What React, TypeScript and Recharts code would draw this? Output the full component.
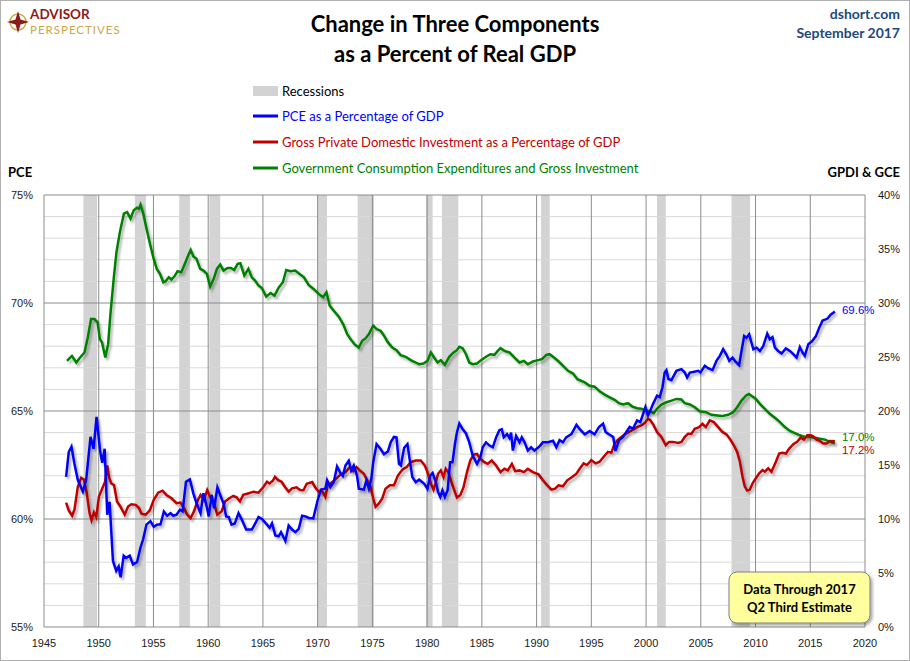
import React from "react";
import { LineChart, Line, XAxis, YAxis, ReferenceArea, ReferenceLine } from "recharts";

type Pt = [number, number];

const pceShare: Pt[] = [
  [1947.02, 61.95], [1947.26, 63.1], [1947.51, 63.35], [1947.78, 62.56], [1948.09, 61.8], [1948.55, 61.27],
  [1948.85, 61.8], [1949.25, 63.8], [1949.53, 63.25], [1949.8, 64.73], [1950.14, 63.1], [1950.32, 62.6],
  [1950.54, 63.25], [1950.78, 60.2], [1950.99, 60.8], [1951.3, 58.06], [1951.6, 57.6], [1951.82, 57.8],
  [1952.0, 57.3], [1952.28, 58.3], [1952.52, 58.2], [1952.83, 58.3], [1953.13, 57.9], [1953.5, 58.0],
  [1953.81, 58.67], [1954.05, 59.05], [1954.36, 59.74], [1954.72, 59.9], [1955.03, 59.64], [1955.34, 59.74],
  [1955.64, 59.74], [1955.95, 60.35], [1956.25, 60.15], [1956.56, 60.27], [1956.8, 60.15], [1957.11, 60.2],
  [1957.42, 60.43], [1957.66, 60.35], [1957.97, 61.72], [1958.33, 61.83], [1958.64, 61.19], [1958.94, 60.73],
  [1959.3, 60.27], [1959.56, 61.19], [1959.8, 60.73], [1960.05, 60.12], [1960.32, 61.11], [1960.54, 60.5],
  [1960.84, 61.46], [1961.15, 61.04], [1961.39, 60.73], [1961.64, 60.12], [1961.88, 60.09], [1962.13, 59.74],
  [1962.43, 59.79], [1962.77, 60.27], [1963.07, 59.97], [1963.47, 59.51], [1963.99, 59.51], [1964.3, 59.8],
  [1964.6, 60.09], [1964.91, 60.0], [1965.37, 59.74], [1965.61, 59.59], [1965.83, 59.8], [1966.13, 59.24],
  [1966.44, 59.2], [1966.65, 59.39], [1967.05, 58.98], [1967.35, 59.7], [1967.66, 59.51], [1967.97, 59.39],
  [1968.27, 59.54], [1968.58, 60.15], [1968.89, 60.12], [1969.2, 60.05], [1969.6, 60.03], [1970.0, 60.87],
  [1970.3, 61.36], [1970.7, 61.4], [1970.86, 61.8], [1971.16, 61.48], [1971.47, 61.7], [1971.77, 62.43],
  [1972.08, 62.13], [1972.3, 62.0], [1972.54, 62.48], [1972.84, 62.7], [1973.06, 62.25], [1973.3, 62.48],
  [1973.6, 62.0], [1973.76, 61.4], [1974.22, 61.36], [1974.46, 61.79], [1974.68, 61.4], [1974.9, 61.87],
  [1975.08, 62.63], [1975.38, 63.47], [1975.75, 63.24], [1976.06, 63.0], [1976.42, 63.13], [1976.67, 63.55],
  [1976.97, 63.8], [1977.2, 63.78], [1977.43, 62.55], [1977.6, 62.48], [1977.9, 63.3], [1978.2, 63.47],
  [1978.44, 62.63], [1978.65, 61.94], [1978.96, 61.7], [1979.27, 61.82], [1979.72, 61.64], [1980.03, 61.4],
  [1980.28, 62.0], [1980.5, 62.13], [1980.8, 61.7], [1981.0, 61.25], [1981.2, 61.02], [1981.4, 61.33],
  [1981.62, 61.02], [1981.87, 61.33], [1982.1, 62.63], [1982.32, 62.63], [1982.54, 63.47], [1982.72, 64.0],
  [1982.94, 64.42], [1983.24, 64.16], [1983.55, 63.96], [1983.85, 63.55], [1984.16, 62.94], [1984.56, 62.55],
  [1984.86, 62.86], [1985.08, 63.32], [1985.38, 63.55], [1985.7, 63.4], [1986.0, 63.32], [1986.3, 63.78],
  [1986.6, 64.11], [1986.82, 64.16], [1987.0, 63.78], [1987.3, 63.93], [1987.52, 63.75], [1987.67, 64.0],
  [1987.83, 63.17], [1988.13, 63.85], [1988.44, 63.55], [1988.65, 63.78], [1988.9, 63.55], [1989.2, 63.17],
  [1989.5, 63.32], [1989.8, 63.17], [1990.18, 63.32], [1990.58, 63.55], [1991.04, 63.55], [1991.5, 63.62],
  [1991.8, 63.32], [1992.1, 63.65], [1992.4, 63.55], [1992.7, 63.78], [1993.18, 63.93], [1993.64, 64.36],
  [1993.94, 64.16], [1994.4, 63.92], [1994.85, 64.07], [1995.3, 63.92], [1995.7, 64.26], [1996.07, 64.41],
  [1996.3, 64.03], [1996.6, 63.92], [1997.0, 63.8], [1997.2, 63.15], [1997.53, 63.64], [1997.9, 63.8],
  [1998.2, 64.03], [1998.5, 64.26], [1998.8, 64.18], [1999.18, 64.56], [1999.48, 64.49], [1999.73, 64.87],
  [1999.94, 65.18], [2000.18, 64.79], [2000.34, 64.95], [2000.64, 65.33], [2001.0, 65.71], [2001.25, 65.64],
  [2001.5, 66.1], [2001.7, 66.78], [2001.86, 66.89], [2002.04, 66.48], [2002.32, 66.43], [2002.77, 66.86],
  [2003.23, 66.94], [2003.54, 66.78], [2003.75, 66.55], [2004.0, 66.78], [2004.3, 66.81], [2004.76, 66.86],
  [2004.97, 66.78], [2005.37, 67.09], [2005.67, 66.98], [2006.07, 66.89], [2006.43, 67.32], [2006.74, 67.55],
  [2007.04, 67.86], [2007.35, 67.6], [2007.6, 67.32], [2007.9, 67.47], [2008.2, 67.27], [2008.5, 67.12],
  [2008.72, 67.78], [2008.96, 68.47], [2009.18, 68.39], [2009.42, 68.55], [2009.63, 68.16], [2009.8, 67.86],
  [2010.1, 67.93], [2010.4, 67.78], [2010.7, 68.0], [2010.9, 68.32], [2011.07, 68.58], [2011.3, 68.32],
  [2011.55, 68.42], [2011.77, 67.93], [2012.07, 67.78], [2012.38, 67.66], [2012.77, 67.9], [2013.14, 67.78],
  [2013.45, 67.63], [2013.75, 67.47], [2014.05, 67.96], [2014.3, 67.7], [2014.5, 67.55], [2014.82, 68.09],
  [2015.18, 68.24], [2015.52, 68.47], [2015.82, 68.85], [2016.13, 69.19], [2016.34, 69.23], [2016.58, 69.28],
  [2016.86, 69.46], [2017.25, 69.6],
];

// Gross private domestic investment as a % of GDP (right axis)
const gpdiShare: Pt[] = [
  [1947.02, 11.52], [1947.26, 10.79], [1947.57, 10.3], [1947.78, 10.85], [1948.09, 12.99], [1948.4, 13.81],
  [1948.64, 13.66], [1948.91, 12.38], [1949.16, 10.55], [1949.34, 9.88], [1949.56, 10.61], [1949.77, 10.18],
  [1950.02, 12.07], [1950.33, 12.84], [1950.58, 13.45], [1950.78, 14.97], [1950.93, 13.9], [1951.15, 13.29],
  [1951.4, 13.14], [1951.67, 11.62], [1951.97, 11.16], [1952.37, 10.4], [1952.68, 11.16], [1952.98, 11.37],
  [1953.38, 11.31], [1953.68, 11.01], [1953.9, 10.49], [1954.3, 10.4], [1954.66, 10.79], [1955.03, 11.77],
  [1955.43, 12.44], [1955.83, 12.62], [1956.19, 12.23], [1956.65, 11.92], [1957.11, 11.46], [1957.48, 11.52],
  [1957.78, 11.01], [1958.09, 10.4], [1958.39, 10.09], [1958.7, 10.7], [1959.0, 11.62], [1959.3, 12.23],
  [1959.61, 11.77], [1959.91, 12.68], [1960.22, 11.92], [1960.52, 11.46], [1960.83, 10.4], [1961.22, 10.7],
  [1961.54, 11.62], [1961.93, 11.92], [1962.3, 12.13], [1962.6, 12.01], [1962.9, 11.62], [1963.2, 12.23],
  [1963.7, 12.38], [1964.14, 12.53], [1964.6, 12.44], [1965.06, 12.99], [1965.37, 13.45], [1965.61, 13.29],
  [1965.9, 13.54], [1966.1, 13.9], [1966.4, 13.6], [1966.7, 13.45], [1967.0, 12.99], [1967.35, 12.53],
  [1967.66, 12.84], [1968.06, 12.93], [1968.4, 12.68], [1968.7, 12.66], [1969.0, 13.27], [1969.5, 13.42],
  [1969.8, 12.9], [1970.1, 12.51], [1970.4, 12.6], [1970.7, 12.05], [1970.92, 13.12], [1971.22, 13.33],
  [1971.53, 13.58], [1971.83, 13.88], [1972.14, 14.13], [1972.54, 14.34], [1972.94, 14.8], [1973.24, 14.43],
  [1973.55, 14.8], [1973.85, 14.5], [1974.22, 14.19], [1974.53, 13.58], [1974.83, 12.97], [1975.08, 11.9],
  [1975.29, 11.13], [1975.6, 11.44], [1975.9, 11.9], [1976.2, 12.81], [1976.6, 13.12], [1976.97, 13.12],
  [1977.34, 14.04], [1977.74, 14.56], [1978.13, 14.8], [1978.5, 15.26], [1978.96, 15.41], [1979.42, 15.41],
  [1979.79, 14.95], [1980.03, 14.34], [1980.34, 13.27], [1980.58, 12.72], [1980.8, 13.42], [1981.0, 14.19],
  [1981.25, 14.5], [1981.5, 13.88], [1981.7, 14.65], [1981.93, 14.34], [1982.17, 13.58], [1982.48, 12.66],
  [1982.72, 11.99], [1983.03, 12.2], [1983.33, 12.97], [1983.64, 14.34], [1983.94, 15.41], [1984.25, 15.96],
  [1984.56, 16.02], [1984.86, 15.57], [1985.23, 15.26], [1985.54, 15.11], [1985.9, 15.41], [1986.3, 14.95],
  [1986.7, 14.34], [1987.06, 14.65], [1987.37, 14.5], [1987.74, 15.11], [1988.04, 14.43], [1988.44, 14.5],
  [1988.84, 14.34], [1989.2, 14.65], [1989.66, 14.34], [1990.18, 14.13], [1990.58, 13.58], [1990.98, 13.12],
  [1991.35, 12.72], [1991.7, 12.81], [1992.0, 13.12], [1992.4, 13.03], [1992.8, 13.58], [1993.24, 13.88],
  [1993.64, 14.19], [1993.94, 14.65], [1994.3, 15.15], [1994.6, 15.0], [1995.0, 15.45], [1995.4, 15.15],
  [1995.76, 15.3], [1996.13, 15.76], [1996.52, 16.22], [1996.83, 16.13], [1997.13, 16.98], [1997.44, 17.35],
  [1997.74, 17.6], [1998.05, 17.84], [1998.45, 18.06], [1998.81, 18.27], [1999.18, 18.51], [1999.57, 18.67],
  [1999.88, 18.88], [2000.18, 19.28], [2000.4, 19.13], [2000.7, 18.67], [2001.0, 18.06], [2001.4, 17.6],
  [2001.8, 16.83], [2002.1, 17.14], [2002.47, 17.14], [2002.93, 17.04], [2003.23, 17.14], [2003.54, 17.6],
  [2003.84, 17.9], [2004.15, 17.9], [2004.45, 18.36], [2004.85, 18.51], [2005.15, 18.82], [2005.46, 18.51],
  [2005.82, 19.13], [2006.19, 18.97], [2006.59, 18.51], [2006.98, 18.06], [2007.35, 17.84], [2007.7, 17.35],
  [2008.02, 16.83], [2008.32, 16.22], [2008.57, 15.3], [2008.81, 13.92], [2009.02, 13.0], [2009.24, 12.63],
  [2009.48, 12.7], [2009.73, 13.31], [2010.03, 13.77], [2010.34, 14.23], [2010.64, 14.53], [2010.85, 14.38],
  [2011.16, 14.69], [2011.46, 14.38], [2011.86, 15.3], [2012.16, 16.06], [2012.47, 16.13], [2012.77, 16.06],
  [2013.08, 16.52], [2013.45, 16.92], [2013.8, 17.14], [2014.12, 17.53], [2014.42, 17.35], [2014.73, 17.75],
  [2015.03, 17.75], [2015.27, 17.66], [2015.58, 17.35], [2015.88, 17.23], [2016.19, 16.98], [2016.5, 16.98],
  [2016.8, 17.23], [2017.25, 17.2],
];

// Government consumption expenditures and gross investment (right axis)
const gceShare: Pt[] = [
  [1947.1, 24.64], [1947.55, 25.1], [1947.95, 24.49], [1948.3, 24.95], [1948.7, 25.42], [1949.0, 26.81],
  [1949.3, 28.51], [1949.6, 28.51], [1949.9, 28.2], [1950.1, 26.66], [1950.3, 26.35], [1950.6, 24.95],
  [1950.86, 26.19], [1951.07, 28.98], [1951.38, 32.38], [1951.62, 34.7], [1951.93, 36.56], [1952.3, 38.27],
  [1952.6, 38.42], [1952.9, 37.8], [1953.2, 38.58], [1953.5, 38.82], [1953.67, 38.73], [1953.82, 39.1],
  [1954.07, 38.27], [1954.37, 36.87], [1954.68, 35.48], [1954.98, 34.24], [1955.3, 33.16], [1955.6, 32.69],
  [1955.9, 31.92], [1956.1, 32.0], [1956.4, 32.38], [1956.64, 32.17], [1956.9, 32.45], [1957.2, 32.94],
  [1957.55, 32.85], [1957.86, 33.62], [1958.17, 34.4], [1958.4, 34.92], [1958.65, 34.3], [1958.93, 34.09],
  [1959.27, 33.16], [1959.57, 33.0], [1959.88, 32.69], [1960.18, 31.52], [1960.5, 32.23], [1960.8, 33.16],
  [1961.1, 33.56], [1961.4, 33.0], [1961.77, 33.25], [1962.08, 33.25], [1962.38, 33.06], [1962.69, 33.62],
  [1962.94, 33.68], [1963.3, 32.54], [1963.67, 33.16], [1963.98, 32.38], [1964.28, 32.07], [1964.6, 31.61],
  [1964.9, 31.39], [1965.3, 30.59], [1965.7, 30.93], [1966.06, 30.68], [1966.42, 31.39], [1966.82, 31.92],
  [1967.13, 33.06], [1967.52, 32.94], [1967.95, 33.0], [1968.35, 32.69], [1968.75, 32.38], [1969.17, 31.67],
  [1969.63, 31.3], [1970.09, 30.84], [1970.49, 30.53], [1970.8, 30.99], [1971.1, 29.75], [1971.47, 29.29],
  [1971.93, 28.73], [1972.32, 28.05], [1972.7, 27.12], [1973.0, 26.66], [1973.36, 26.19], [1973.76, 25.88],
  [1974.07, 26.5], [1974.37, 26.72], [1974.68, 27.12], [1975.08, 27.9], [1975.38, 27.59], [1975.75, 27.43],
  [1976.06, 26.97], [1976.42, 26.35], [1976.82, 25.88], [1977.2, 25.63], [1977.58, 25.17], [1978.04, 25.02],
  [1978.5, 24.71], [1978.96, 24.49], [1979.27, 24.33], [1979.66, 24.4], [1980.03, 24.64], [1980.34, 25.42],
  [1980.64, 24.95], [1980.95, 24.49], [1981.25, 24.71], [1981.62, 24.27], [1982.02, 25.02], [1982.42, 25.42],
  [1982.72, 25.63], [1982.94, 25.94], [1983.24, 25.82], [1983.55, 25.26], [1983.85, 24.49], [1984.16, 24.33],
  [1984.56, 24.4], [1984.92, 24.71], [1985.38, 25.02], [1985.78, 25.26], [1986.15, 25.2], [1986.45, 25.57],
  [1986.7, 25.82], [1987.06, 25.57], [1987.52, 25.42], [1987.98, 24.95], [1988.44, 24.49], [1988.84, 24.64],
  [1989.2, 24.33], [1989.66, 24.58], [1990.12, 24.71], [1990.49, 24.8], [1990.89, 25.2], [1991.19, 25.26],
  [1991.59, 24.95], [1992.02, 24.58], [1992.42, 24.18], [1992.87, 23.72], [1993.33, 23.47], [1993.73, 22.94],
  [1994.4, 22.65], [1994.85, 22.34], [1995.3, 22.25], [1995.76, 21.82], [1996.22, 21.52], [1996.68, 21.27],
  [1997.13, 21.03], [1997.53, 20.72], [1997.9, 20.6], [1998.35, 20.72], [1998.75, 20.41], [1999.18, 20.26],
  [1999.57, 20.2], [1999.97, 20.05], [2000.34, 19.98], [2000.7, 19.8], [2001.0, 20.2], [2001.4, 20.6],
  [2001.86, 20.81], [2002.32, 20.96], [2002.77, 21.12], [2003.23, 21.06], [2003.54, 20.72], [2004.0, 20.6],
  [2004.45, 20.35], [2004.9, 19.98], [2005.46, 19.89], [2005.98, 19.65], [2006.5, 19.59], [2006.98, 19.53],
  [2007.5, 19.65], [2007.96, 19.89], [2008.32, 20.35], [2008.72, 20.96], [2009.12, 21.42], [2009.39, 21.58],
  [2009.63, 21.42], [2010.03, 21.12], [2010.4, 20.66], [2010.85, 20.2], [2011.3, 19.74], [2011.77, 19.37],
  [2012.23, 18.97], [2012.68, 18.51], [2013.14, 18.15], [2013.6, 17.96], [2014.05, 17.75], [2014.5, 17.6],
  [2014.97, 17.6], [2015.43, 17.53], [2015.88, 17.44], [2016.34, 17.35], [2016.8, 17.14], [2017.25, 17.0],
];

// recession bands [start, end] in decimal years
const recessions: Pt[] = [
  [1948.6, 1949.85], [1953.3, 1954.3], [1957.35, 1958.33], [1960.1, 1961.1], [1969.95, 1970.85],
  [1973.65, 1975.15], [1979.9, 1980.5], [1981.35, 1982.85], [1990.4, 1991.2], [2001.0, 2001.8],
  [2007.8, 2009.5],
];

const yearTicks = [1945, 1950, 1955, 1960, 1965, 1970, 1975, 1980, 1985, 1990, 1995, 2000, 2005, 2010, 2015, 2020];
const pceTicks = [55, 60, 65, 70, 75];
const shareTicks = [0, 5, 10, 15, 20, 25, 30, 35, 40];
const pceMinorGrid = [56, 57, 58, 59, 61, 62, 63, 64, 66, 67, 68, 69, 71, 72, 73, 74];

const BLUE = "#0000ff";
const RED = "#c00000";
const GREEN = "#008000";
const GRID = "#8c8c8c";
const LEGEND_FONT = "Lato, 'Open Sans', sans-serif";
const TICK_FONT = "'Liberation Sans', Arial, sans-serif";

const toRows = (pts: Pt[]) => pts.map(([year, value]) => ({ year, value }));

const endLabel = (count: number, color: string, dy: number) => (props: any) => {
  if (props.index !== count - 1) return null;
  return (
    <text
      x={props.x + 7}
      y={props.y + dy}
      fill={color}
      fontSize={11.5}
      fontFamily={TICK_FONT}
      dominantBaseline="middle"
    >
      {`${Number(props.value).toFixed(1)}%`}
    </text>
  );
};

const tickStyle = { fontSize: 11, fontFamily: TICK_FONT, fill: "#1a1a1a" };

export default function App() {
  return (
    <div
      style={{
        position: "absolute",
        left: 0,
        top: 0,
        width: 910,
        height: 661,
        background: "#fff",
        boxSizing: "border-box",
        border: "1px solid #b0b0b0",
      }}
    >
      <div style={{ position: "absolute", left: -1, top: -1 }}>
        <LineChart width={910} height={661} margin={{ top: 195, right: 0, left: 0, bottom: 4 }}>
          <defs>
            <filter id="lineShadow" filterUnits="userSpaceOnUse" x="0" y="0" width="910" height="661">
              <feDropShadow dx="2" dy="2.5" stdDeviation="1.3" floodColor="#000" floodOpacity="0.3" />
            </filter>
          </defs>
          <XAxis
            dataKey="year"
            type="number"
            domain={[1945, 2020]}
            ticks={yearTicks}
            interval={0}
            axisLine={false}
            tickLine={false}
            tickSize={0}
            tickMargin={12}
            tick={tickStyle}
            height={30}
          />
          <YAxis
            yAxisId="pce"
            orientation="left"
            domain={[55, 75]}
            ticks={pceTicks}
            interval={0}
            width={44}
            axisLine={false}
            tickLine={false}
            tickSize={0}
            tickMargin={11}
            tick={tickStyle}
            tickFormatter={(v: number) => `${v}%`}
          />
          <YAxis
            yAxisId="share"
            orientation="right"
            domain={[0, 40]}
            ticks={shareTicks}
            interval={0}
            width={45}
            axisLine={false}
            tickLine={false}
            tickSize={0}
            tickMargin={13}
            tick={tickStyle}
            tickFormatter={(v: number) => `${v}%`}
          />

          {recessions.map(([start, end]) => (
            <ReferenceArea
              key={`rec-${start}`}
              yAxisId="pce"
              x1={start}
              x2={end}
              fill="#d3d3d3"
              fillOpacity={1}
              stroke="none"
            />
          ))}
          {pceMinorGrid.map((v) => (
            <ReferenceLine key={`minor-${v}`} yAxisId="pce" y={v} stroke="#d9d9d9" strokeWidth={1} />
          ))}
          {pceTicks.map((v) => (
            <ReferenceLine key={`major-${v}`} yAxisId="pce" y={v} stroke={GRID} strokeWidth={1} />
          ))}
          {yearTicks.map((yr) => (
            <ReferenceLine key={`yr-${yr}`} yAxisId="pce" x={yr} stroke={GRID} strokeWidth={1} />
          ))}

          <Line
            yAxisId="share"
            data={toRows(gceShare)}
            dataKey="value"
            type="linear"
            stroke={GREEN}
            strokeWidth={2.5}
            dot={false}
            filter="url(#lineShadow)"
            isAnimationActive={false}
            label={endLabel(gceShare.length, GREEN, -5)}
          />
          <Line
            yAxisId="share"
            data={toRows(gpdiShare)}
            dataKey="value"
            type="linear"
            stroke={RED}
            strokeWidth={2.5}
            dot={false}
            filter="url(#lineShadow)"
            isAnimationActive={false}
            label={endLabel(gpdiShare.length, RED, 10)}
          />
          <Line
            yAxisId="pce"
            data={toRows(pceShare)}
            dataKey="value"
            type="linear"
            stroke={BLUE}
            strokeWidth={2.5}
            dot={false}
            filter="url(#lineShadow)"
            isAnimationActive={false}
            label={endLabel(pceShare.length, BLUE, -1)}
          />
        </LineChart>
      </div>

      <svg
        width={910}
        height={661}
        style={{ position: "absolute", left: -1, top: -1, pointerEvents: "none" }}
      >
        <defs>
          <filter id="boxShadow" x="-10%" y="-10%" width="130%" height="140%">
            <feDropShadow dx="2" dy="2" stdDeviation="1.5" floodColor="#000" floodOpacity="0.35" />
          </filter>
        </defs>

        {/* logo */}
        <g>
          <circle cx={18} cy={22} r={8} fill="none" stroke="#c9a64a" strokeWidth={1.5} />
          <polygon points="18,11 20.5,19.5 29,22 20.5,24.5 18,33 15.5,24.5 7,22 15.5,19.5" fill="#8b1a1a" />
          <text x={30} y={19} fontFamily={LEGEND_FONT} fontWeight={700} fontSize={13.5} fill="#8b1a1a">
            ADVISOR
          </text>
          <text x={30} y={34} fontFamily={LEGEND_FONT} fontSize={11.5} fill="#c9a64a" letterSpacing={1}>
            PERSPECTIVES
          </text>
        </g>

        <text x={455} y={32} textAnchor="middle" fontFamily={LEGEND_FONT} fontWeight={700} fontSize={22} fill="#000">
          Change in Three Components
        </text>
        <text x={455} y={62} textAnchor="middle" fontFamily={LEGEND_FONT} fontWeight={700} fontSize={22} fill="#000">
          as a Percent of Real GDP
        </text>

        <text x={900} y={19} textAnchor="end" fontFamily={LEGEND_FONT} fontWeight={700} fontSize={14} fill="#1f497d">
          dshort.com
        </text>
        <text x={900} y={38} textAnchor="end" fontFamily={LEGEND_FONT} fontWeight={700} fontSize={14} fill="#1f497d">
          September 2017
        </text>

        {/* legend */}
        <rect x={253} y={86} width={25} height={10} fill="#d3d3d3" />
        <text x={282} y={95.5} fontFamily={LEGEND_FONT} fontSize={13} fill="#000">
          Recessions
        </text>
        <line x1={253} x2={278} y1={116} y2={116} stroke={BLUE} strokeWidth={3} />
        <text x={282} y={120.5} fontFamily={LEGEND_FONT} fontSize={13} fill={BLUE}>
          PCE as a Percentage of GDP
        </text>
        <line x1={253} x2={278} y1={142} y2={142} stroke={RED} strokeWidth={3} />
        <text x={282} y={146.5} fontFamily={LEGEND_FONT} fontSize={13} fill={RED}>
          Gross Private Domestic Investment as a Percentage of GDP
        </text>
        <line x1={253} x2={278} y1={168} y2={168} stroke={GREEN} strokeWidth={3} />
        <text x={282} y={172.5} fontFamily={LEGEND_FONT} fontSize={13} fill={GREEN}>
          Government Consumption Expenditures and Gross Investment
        </text>

        <text x={8} y={177} fontFamily={LEGEND_FONT} fontWeight={700} fontSize={13} fill="#000">
          PCE
        </text>
        <text x={900} y={177} textAnchor="end" fontFamily={LEGEND_FONT} fontWeight={700} fontSize={13} fill="#000">
          GPDI &amp; GCE
        </text>

        {/* data note */}
        <rect x={729} y={572} width={141} height={51} rx={8} fill="#ffff9e" stroke="#808080" strokeWidth={1} filter="url(#boxShadow)" />
        <text x={799.5} y={594} textAnchor="middle" fontFamily={LEGEND_FONT} fontWeight={700} fontSize={13} fill="#000">
          Data Through 2017
        </text>
        <text x={799.5} y={612} textAnchor="middle" fontFamily={LEGEND_FONT} fontWeight={700} fontSize={13} fill="#000">
          Q2 Third Estimate
        </text>
      </svg>
    </div>
  );
}
